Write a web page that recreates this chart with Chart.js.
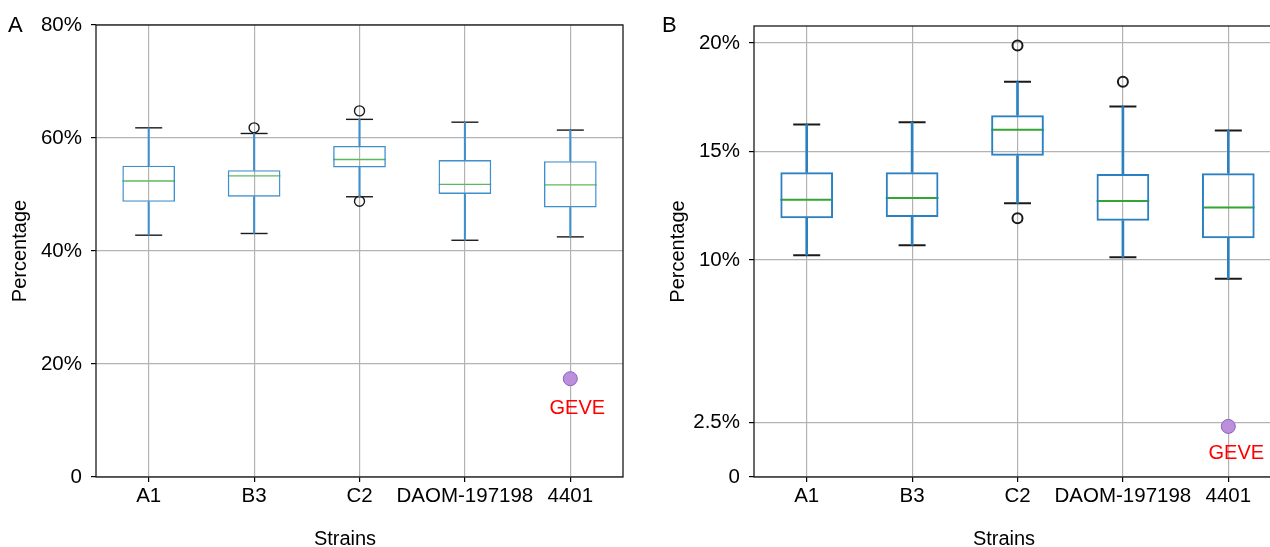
<!DOCTYPE html>
<html><head><meta charset="utf-8">
<script src="https://cdn.jsdelivr.net/npm/chart.js@4.4.1/dist/chart.umd.min.js"></script>
<style>
html,body{margin:0;padding:0;overflow:hidden;background:#fff;width:1270px;height:547px;}
#wrapA{position:absolute;left:0;top:0;width:640px;height:547px;}
#wrapB{position:absolute;left:640px;top:0;width:641px;height:547px;}
.lbl{position:absolute;font-family:'Liberation Sans',Arial,sans-serif;color:#000;white-space:nowrap;}
</style></head><body>
<div id="wrapA"><canvas id="cA" width="640" height="547"></canvas></div>
<div id="wrapB"><canvas id="cB" width="641" height="547"></canvas></div>
<div class="lbl" style="left:8px;top:14px;font-size:22px;line-height:22px">A</div>
<div class="lbl" style="left:662px;top:14px;font-size:22px;line-height:22px">B</div>
<div class="lbl" style="left:345px;top:528px;font-size:20px;line-height:20px;transform:translateX(-50%)">Strains</div>
<div class="lbl" style="left:1004px;top:528px;font-size:20px;line-height:20px;transform:translateX(-50%)">Strains</div>
<script>
// ---- data ----
const categories = ['A1', 'B3', 'C2', 'DAOM-197198', '4401'];

// Panel A (percentage)
const aMin = [42.8, 43.1, 49.6, 41.9, 42.5];
const aQ1  = [48.7, 49.6, 54.8, 50.1, 47.7];
const aMed = [52.4, 53.3, 56.2, 51.8, 51.7];
const aQ3  = [55.1, 54.3, 58.6, 56.1, 55.9];
const aMax = [61.8, 60.8, 63.3, 62.8, 61.4];
const aOutlierStrain = ['B3', 'C2', 'C2'];
const aOutlierValue  = [61.8, 64.8, 48.8];
const aGeveValue = 17.4;
const aTicks = [0, 20, 40, 60, 80];

// Panel B (percentage)
const bMin = [10.22, 10.68, 12.61, 10.12, 9.14];
const bQ1  = [11.92, 11.98, 14.80, 11.81, 11.00];
const bMed = [12.78, 12.85, 16.00, 12.72, 12.42];
const bQ3  = [14.04, 14.04, 16.67, 13.96, 14.00];
const bMax = [16.24, 16.34, 18.21, 17.07, 15.97];
const bOutlierStrain = ['C2', 'C2', 'DAOM-197198'];
const bOutlierValue  = [19.88, 11.92, 18.21];
const bGeveValue = 2.33;
const bTicks = [0, 2.5, 10, 15, 20];

const geveStrain = '4401';
const geveLabel = 'GEVE';
const yTitle = 'Percentage';

// ---- rendering ----
const FONT = "'Liberation Sans', Arial, sans-serif";
Chart.defaults.font.family = FONT;
Chart.defaults.color = '#000';

const framePlugin = {
  id: 'frame',
  afterDraw(chart) {
    const {ctx, chartArea: a} = chart;
    ctx.save();
    ctx.strokeStyle = '#1a1a1a';
    ctx.lineWidth = 1.3;
    ctx.strokeRect(a.left, a.top, a.right - a.left, a.bottom - a.top);
    ctx.restore();
  }
};
const geveLabelPlugin = {
  id: 'geveLabel',
  afterDatasetsDraw(chart, args, opts) {
    const idx = chart.data.datasets.findIndex(d => d.isGeve);
    if (idx < 0) return;
    const el = chart.getDatasetMeta(idx).data[0];
    const ctx = chart.ctx;
    ctx.save();
    ctx.fillStyle = '#ff0000';
    ctx.font = '20px ' + FONT;
    ctx.textAlign = 'center';
    ctx.textBaseline = 'middle';
    ctx.fillText(opts.text, el.x + opts.dx, el.y + opts.dy);
    ctx.restore();
  }
};

function makeChart(id, d, s) {
  const whisker = {type: 'bar', backgroundColor: s.blue, borderWidth: 0, barThickness: s.lw, grouped: false};
  const cap = {type: 'line', showLine: false, pointStyle: 'line', pointRadius: 13.5, pointBorderColor: '#1a1a1a', pointBorderWidth: s.lw, borderColor: '#1a1a1a'};
  return new Chart(document.getElementById(id), {
    type: 'bar',
    data: {
      labels: categories,
      datasets: [
        Object.assign({data: d.min.map((v, i) => [v, d.q1[i]])}, whisker),
        Object.assign({data: d.q3.map((v, i) => [v, d.max[i]])}, whisker),
        {type: 'bar', data: d.q1.map((v, i) => [v, d.q3[i]]), backgroundColor: 'rgba(0,0,0,0)',
         borderColor: s.blue, borderWidth: s.lw, borderSkipped: false, barPercentage: 0.5, categoryPercentage: 1, grouped: false},
        Object.assign({data: d.max}, cap),
        Object.assign({data: d.min}, cap),
        {type: 'line', data: d.med, showLine: false, pointStyle: 'line', pointRadius: 26.3,
         pointBorderColor: s.green, borderColor: s.green, pointBorderWidth: s.lw},
        {type: 'line', data: d.outStrain.map((c, i) => ({x: c, y: d.outValue[i]})), showLine: false,
         pointStyle: 'circle', pointRadius: 5, pointBackgroundColor: 'rgba(0,0,0,0)', pointBorderColor: '#1a1a1a', pointBorderWidth: s.outLw},
        {type: 'line', isGeve: true, data: [{x: geveStrain, y: d.geve}], showLine: false, pointStyle: 'circle',
         pointRadius: 7, pointBackgroundColor: '#bb8fdb', pointBorderColor: '#8d5fc0', pointBorderWidth: 1}
      ]
    },
    options: {
      responsive: false, animation: false, events: [],
      layout: {padding: {left: 0, right: s.padRight, top: s.padTop, bottom: 0}, autoPadding: false},
      plugins: {legend: {display: false}, tooltip: {enabled: false},
        geveLabel: {text: geveLabel, dx: s.gdx, dy: s.gdy}},
      scales: {
        x: {
          type: 'category', offset: true,
          grid: {display: true, offset: false, color: '#b3b3b3', lineWidth: 1.2, tickColor: '#000', tickLength: 5, drawTicks: true},
          border: {display: false},
          ticks: {color: '#000', font: {size: 20.5}, padding: 2, autoSkip: false, maxRotation: 0, minRotation: 0},
          afterFit: sc => { sc.height = 70; }
        },
        y: {
          type: 'linear', min: 0, max: s.max,
          afterBuildTicks: sc => { sc.ticks = s.ticks.map(v => ({value: v})); },
          grid: {display: true, color: '#b3b3b3', lineWidth: 1.2, tickColor: '#000', tickLength: 5, drawTicks: true},
          border: {display: false},
          ticks: {color: '#000', font: {size: 20.5}, padding: 9, callback: v => (v === 0 ? '0' : v + '%')},
          title: {display: true, text: yTitle, color: '#000', font: {size: 20}, padding: {top: s.titlePad, bottom: 0}},
          afterFit: sc => { sc.width = s.yWidth; }
        }
      }
    },
    plugins: [framePlugin, geveLabelPlugin]
  });
}

makeChart('cA',
  {min: aMin, q1: aQ1, med: aMed, q3: aQ3, max: aMax, outStrain: aOutlierStrain, outValue: aOutlierValue, geve: aGeveValue},
  {blue: '#3f8fcc', green: '#5cb85c', lw: 1.4, outLw: 1.4, max: 80, ticks: aTicks, padRight: 17, padTop: 25, yWidth: 96, titlePad: 8, gdx: 7, gdy: 30});

makeChart('cB',
  {min: bMin, q1: bQ1, med: bMed, q3: bQ3, max: bMax, outStrain: bOutlierStrain, outValue: bOutlierValue, geve: bGeveValue},
  {blue: '#2b80c2', green: '#33a533', lw: 2, outLw: 2, max: 20.78, ticks: bTicks, padRight: 0, padTop: 26, yWidth: 114, titlePad: 26, gdx: 8, gdy: 27});
</script>
</body></html>
